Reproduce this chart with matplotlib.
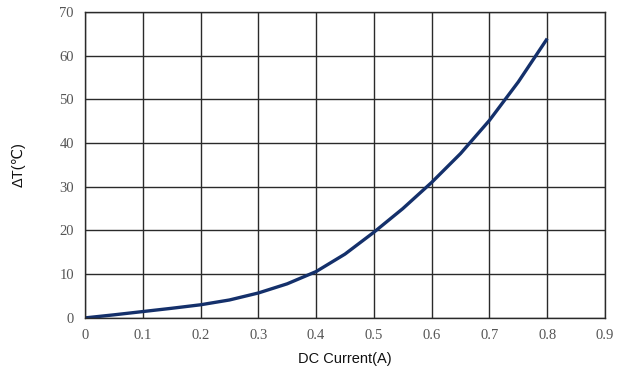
import matplotlib
matplotlib.use('Agg')
import matplotlib.pyplot as plt

# ─── Data ────────────────────────────────────────────────────────────────────
current_a = [0.0, 0.05, 0.1, 0.15, 0.2, 0.25, 0.3, 0.35, 0.4,
             0.45, 0.5, 0.55, 0.6, 0.65, 0.7, 0.75, 0.8]
delta_t = [0.0, 0.7, 1.45, 2.2, 3.0, 4.1, 5.7, 7.8, 10.6,
           14.6, 19.6, 25.0, 31.0, 37.6, 45.2, 54.0, 63.9]

x_ticks = [0, 0.1, 0.2, 0.3, 0.4, 0.5, 0.6, 0.7, 0.8, 0.9]
x_tick_labels = ['0', '0.1', '0.2', '0.3', '0.4', '0.5', '0.6', '0.7', '0.8', '0.9']
y_ticks = [0, 10, 20, 30, 40, 50, 60, 70]

# ─── Plot ────────────────────────────────────────────────────────────────────
fig = plt.figure(figsize=(6.23, 3.74), dpi=100)
ax = fig.add_axes([0.1364, 0.150, 0.8347, 0.818])

ax.plot(current_a, delta_t, color='#14306b', linewidth=2.4,
        solid_joinstyle='round', solid_capstyle='butt')

ax.set_xlim(0, 0.9)
ax.set_ylim(0, 70)
ax.set_xticks(x_ticks)
ax.set_xticklabels(x_tick_labels)
ax.set_yticks(y_ticks)
ax.grid(True, color='#2a2a2a', linewidth=1.0)
ax.set_axisbelow(True)
for s in ax.spines.values():
    s.set_color('#2a2a2a')
    s.set_linewidth(1.0)

ax.tick_params(length=0, pad=8, labelcolor='#555555', labelsize=10.5)
for lbl in ax.get_xticklabels() + ax.get_yticklabels():
    lbl.set_fontfamily('Liberation Serif')

ax.set_xlabel('DC Current(A)', fontfamily='Liberation Sans', fontsize=10.5,
              color='#111111', labelpad=7)
ax.set_ylabel('ΔT(℃)', fontfamily=['Liberation Sans', 'DejaVu Sans'], fontsize=10.5,
              color='#111111', labelpad=24)

fig.savefig('out.png', dpi=100)
